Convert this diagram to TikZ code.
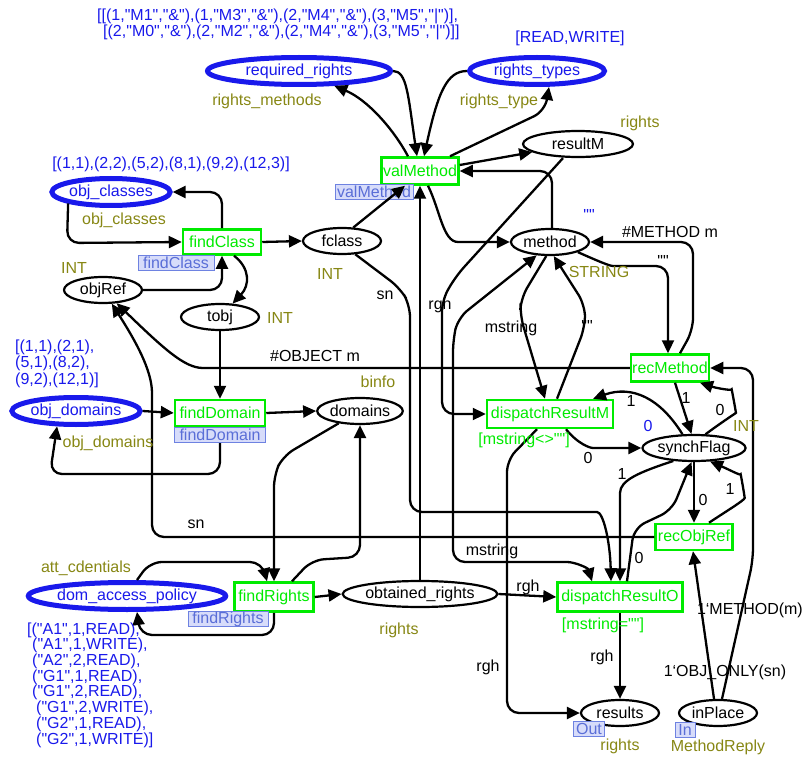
\documentclass[tikz,border=0pt]{standalone}
\usepackage{fontspec}
\setmainfont{Liberation Sans}[Ligatures=TeXOff]
\usetikzlibrary{arrows.meta,shapes.geometric}
\definecolor{pblue}{RGB}{25,25,235}
\definecolor{olivetx}{RGB}{135,135,20}
\definecolor{tgreen}{RGB}{0,235,0}
\definecolor{lblfill}{RGB}{215,220,250}
\definecolor{lbldraw}{RGB}{110,130,225}
\definecolor{lbltext}{RGB}{90,110,215}
\tikzset{
  every node/.style={font=\fontsize{16}{19}\selectfont, inner sep=0pt},
  plc/.style={ellipse, draw, fill=white, line width=2.2pt, minimum height=26pt, inner sep=0pt},
  fplc/.style={ellipse, draw=pblue, fill=white, text=pblue, line width=5pt, minimum height=27pt, inner sep=0pt},
  trn/.style={rectangle, draw=tgreen, fill=white, text=tgreen, line width=2.5pt, inner sep=0pt},
  lblbox/.style={rectangle, draw=lbldraw, fill=lblfill, text=lbltext, line width=1pt, minimum height=15pt, inner sep=0pt},
  conn/.style={line width=2.3pt, -{Triangle[length=13pt,width=12pt]}, rounded corners=12pt},
  bconn/.style={line width=2.3pt, {Triangle[length=13pt,width=12pt]}-{Triangle[length=13pt,width=12pt]}, rounded corners=12pt},
  tlab/.style={text=olivetx},
  mrk/.style={text=pblue},
  alab/.style={text=black},
  grd/.style={text=tgreen}
}
\begin{document}
\begin{tikzpicture}[x=1pt,y=-1pt]
\useasboundingbox (0,0) rectangle (804,757);
% places
\node[fplc, minimum width=183pt] (reqR) at (299,71) {required\_rights};
\node[fplc, minimum width=135pt] (rtypes) at (537,71) {rights\_types};
\node[plc, minimum width=110pt] (resultM) at (578,144) {resultM};
\node[fplc, minimum width=114pt] (objC) at (111,192) {obj\_classes};
\node[plc, minimum width=78pt] (fclass) at (342,241) {fclass};
\node[plc, minimum width=78pt] (method) at (550,242) {method};
\node[plc, minimum width=78pt] (objRef) at (103,290) {objRef};
\node[plc, minimum width=78pt] (tobj) at (220,317) {tobj};
\node[fplc, minimum width=124pt] (objD) at (76,411) {obj\_domains};
\node[plc, minimum width=78pt] (domains) at (360,411) {domains};
\node[plc, minimum width=102pt] (sF) at (694,448) {synchFlag};
\node[fplc, minimum width=170pt] (dap) at (127,596) {dom\_access\_policy};
\node[plc, minimum width=144pt] (obtR) at (420,594) {obtained\_rights};
\node[plc, minimum width=78pt] (results) at (620,713) {results};
\node[plc, minimum width=78pt] (inP) at (718,713) {inPlace};
% transitions
\node[trn, minimum width=77pt, minimum height=27pt] (valM) at (420,171) {valMethod};
\node[trn, minimum width=78pt, minimum height=25pt] (findC) at (222,242) {findClass};
\node[trn, minimum width=90pt, minimum height=26pt] (findD) at (220,413) {findDomain};
\node[trn, minimum width=78pt, minimum height=27pt] (recM) at (670,368) {recMethod};
\node[trn, minimum width=126pt, minimum height=28pt] (dispRM) at (550,414) {dispatchResultM};
\node[trn, minimum width=77pt, minimum height=26pt] (recOR) at (694,537) {recObjRef};
\node[trn, minimum width=79pt, minimum height=29pt] (findR) at (274,597) {findRights};
\node[trn, minimum width=125pt, minimum height=29pt] (dispRO) at (620,597) {dispatchResultO};
% arcs
\draw[conn] ([xshift=-12]valM.north) .. controls (394,130) and (368,100) .. (reqR);
\draw[conn] (reqR.east) .. controls (407,71) and (408,95) .. ([xshift=-3]valM.north);
\draw[conn] (rtypes.west) .. controls (447,71) and (438,92) .. ([xshift=4]valM.north);
\draw[conn] ([xshift=30]valM.north) -- (545,111) -- ([xshift=12]rtypes.south);
\draw[conn] ([yshift=6]valM.east) -- (resultM);
\draw[conn] ([xshift=2]method.north) |- (valM.east);
\draw[conn] ([xshift=8]valM.south) .. controls (440,210) and (443,242) .. (470,242) -- (method.west);
\draw[conn] ([xshift=-15]resultM.south) -- (456,276) -- (442,300) -- (442,414) -- (dispRM.west);
\draw[conn] (fclass.-45) -- (400,288) -- (410,305) -- (410,512) -- (585,512) .. controls (603,512) and (610,540) .. ([xshift=-9]dispRO.north);
\draw[conn] (obtR.north) -- (valM.south);
\draw[bconn] (method.-135) -- (458,318) -- (453,340) -- (453,562) -- (555,562) .. controls (575,562) and (588,568) .. ([xshift=-28]dispRO.north);
\draw[conn] ([xshift=-13]dispRM.south) -- (507,460) -- (507,713) -- (results.west);
\draw[conn] (objRef.east) -| (findC.south);
\draw[conn] (findC.north) |- (objC.east);
\draw[conn] (objC.-165) -- (67,243) -- (findC.west);
\draw[conn] (findC.east) -- (fclass.west);
\draw[conn] ([xshift=12]findC.south) .. controls (250,268) and (250,285) .. (tobj);
\draw[conn] (tobj.south) -- (findD.north);
\draw[conn] (objD.east) -- (findD.west);
\draw[conn] (findD.south) -- (220,474) -- (50,474) -- (objD.-141);
\draw[conn] (findD.east) -- (domains.west);
\draw[conn] (domains.-150) -- (283,456) -- (274,475) -- (findR.north);
\draw[conn] ([xshift=18]findR.north) -- (312,560) -- (360,557) -- (domains.south);
\draw[conn] ([xshift=10]dap.north) -- (150,562) -- (262,562) -- ([xshift=-7]findR.north);
\draw[conn] (findR.south) -- (274,635) -- (140,635) -- ([xshift=10]dap.south);
\draw[conn] (findR.east) -- (obtR.west);
\draw[conn] (obtR.east) -- (dispRO.west);
\draw[conn] (recOR.west) -- (152,537) -- (152,405) .. controls (152,370) and (135,340) .. (objRef);
\draw[conn] (recM.west) -- (215,368) .. controls (185,368) and (165,350) .. (objRef);
\draw[conn] (method.-20) .. controls (600,262) and (610,266) .. (625,266) -- (668,266) -- ([xshift=-2]recM.north);
\draw[conn] ([xshift=10]recM.north) -- (693,330) -- (693,242) -- (method.east);
\draw[conn] (method.-105) -- (521,298) -- (520,315) -- ([xshift=-5]dispRM.north);
\draw[conn] ([xshift=7]dispRM.north) -- (585,327) -- (585,305) -- (method.-75);
\draw[conn] (sF.130) .. controls (660,398) and (632,385) .. ([xshift=43]dispRM.north);
\draw[conn] ([xshift=16]dispRM.south) .. controls (578,444) and (590,448) .. (605,448) -- (sF.west);
\draw[conn] ([xshift=5]recM.south) -- (sF.100);
\draw[conn] (sF.50) .. controls (722,422) and (736,413) .. (734,401) .. controls (732,391) and (716,388) .. ([xshift=30]recM.south);
\draw[conn] ([xshift=4]inP.north) -- (753,560) -- (753,368) -- (recM.east);
\draw[conn] ([xshift=-4]inP.north) -- ([xshift=-1]recOR.south);
\draw[conn] (sF.south) -- (recOR.north);
\draw[conn] ([xshift=15]recOR.north) .. controls (725,512) and (745,500) .. (743,486) .. controls (741,476) and (730,470) .. (sF.-40);
\draw[conn] (sF.-148) .. controls (640,472) and (620,480) .. (620,505) -- (dispRO.north);
\draw[conn] ([xshift=7]dispRO.north) -- (634,528) -- (672,510) -- (sF.-100);
\draw[conn] (dispRO.south) -- (results.north);
% transition labels and port tags
\node[lblbox, minimum width=78pt] (lvalM) at (374,192) {valMethod};
\node[lblbox, minimum width=76pt] (lfindC) at (176,263) {findClass};
\node[lblbox, minimum width=91pt] (lfindD) at (220,435) {findDomain};
\node[lblbox, minimum width=80pt] (lfindR) at (228,619) {findRights};
\node[lblbox, minimum width=31pt] (pOut) at (589,729) {Out};
\node[lblbox, minimum width=20pt] (pIn) at (685,730) {In};
\draw[conn] (fclass.50) -- ([xshift=-15]valM.south);
% initial markings
\node[mrk, anchor=west] (m1a) at (97,16) {[[(1,"M1","\&"),(1,"M3","\&"),(2,"M4","\&"),(3,"M5","|")],};
\node[mrk, anchor=west] (m1b) at (103,32) {[(2,"M0","\&"),(2,"M2","\&"),(2,"M4","\&"),(3,"M5","|")]]};
\node[mrk] (m2) at (570,38) {[READ,WRITE]};
\node[mrk] (m3) at (171,164) {[(1,1),(2,2),(5,2),(8,1),(9,2),(12,3)]};
\node[mrk, anchor=west] (m4a) at (15,347) {[(1,1),(2,1),};
\node[mrk, anchor=west] (m4b) at (15,363) {(5,1),(8,2),};
\node[mrk, anchor=west] (m4c) at (15,380) {(9,2),(12,1)]};
\node[mrk] (m5) at (589,215) {""};
\node[mrk] (m6) at (648,426) {0};
\node[mrk, anchor=west] (m7a) at (27,630) {[("A1",1,READ),};
\node[mrk, anchor=west] (m7b) at (32,645.7) {("A1",1,WRITE),};
\node[mrk, anchor=west] (m7c) at (32,661.4) {("A2",2,READ),};
\node[mrk, anchor=west] (m7d) at (32,677.1) {("G1",1,READ),};
\node[mrk, anchor=west] (m7e) at (32,692.8) {("G1",2,READ),};
\node[mrk, anchor=west] (m7f) at (36,708.5) {("G1",2,WRITE),};
\node[mrk, anchor=west] (m7g) at (36,724.2) {("G2",1,READ),};
\node[mrk, anchor=west] (m7h) at (36,739.9) {("G2",1,WRITE)]};
% type labels
\node[tlab] (tl1) at (267,101) {rights\_methods};
\node[tlab] (tl2) at (499,101) {rights\_type};
\node[tlab] (tl3) at (640,123) {rights};
\node[tlab] (tl4) at (124,220) {obj\_classes};
\node[tlab] (tl5) at (74,268) {INT};
\node[tlab] (tl6) at (330,274) {INT};
\node[tlab] (tl7) at (280,318) {INT};
\node[tlab] (tl8) at (599,272) {STRING};
\node[tlab] (tl9) at (378,382) {binfo};
\node[tlab] (tl10) at (108,443) {obj\_domains};
\node[tlab] (tl11) at (746,426) {INT};
\node[tlab] (tl12) at (86,568) {att\_cdentials};
\node[tlab] (tl13) at (399,630) {rights};
\node[tlab] (tl14) at (620,746) {rights};
\node[tlab] (tl15) at (718,747) {MethodReply};
% arc inscriptions
\node[alab] (al1) at (670,232) {\#METHOD m};
\node[alab] (al2) at (663,261) {""};
\node[alab] (al3) at (440,305) {rgh};
\node[alab] (al4) at (385,295) {sn};
\node[alab] (al5) at (511,328) {mstring};
\node[alab] (al6) at (587,326) {""};
\node[alab] (al7) at (315,356) {\#OBJECT m};
\node[alab] (al8) at (631,401) {1};
\node[alab] (al9) at (686,398) {1};
\node[alab] (al10) at (720,410) {0};
\node[alab] (al11) at (588,458) {0};
\node[alab] (al12) at (622,474) {1};
\node[alab] (al13) at (703,500) {0};
\node[alab] (al14) at (730,489) {1};
\node[alab] (al15) at (639,558) {0};
\node[alab] (al16) at (196,524) {sn};
\node[alab] (al17) at (492,551) {mstring};
\node[alab] (al18) at (528,587) {rgh};
\node[alab] (al19) at (488,667) {rgh};
\node[alab] (al20) at (602,657) {rgh};
\node[alab, anchor=east] (al21) at (803,610) {1‘METHOD(m)};
\node[alab] (al22) at (725,672) {1‘OBJ\_ONLY(sn)};
% guards
\node[grd] (g1) at (524,440) {[mstring<>""]};
\node[grd] (g2) at (603,625) {[mstring=""]};
\end{tikzpicture}
\end{document}
